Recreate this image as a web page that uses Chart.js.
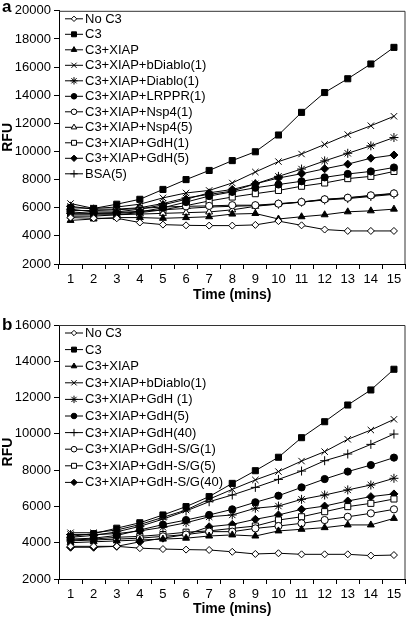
<!DOCTYPE html>
<html>
<head>
<meta charset="utf-8">
<script src="https://cdn.jsdelivr.net/npm/chart.js@4/dist/chart.umd.min.js"></script>
<style>
  body { margin: 0; background: #fff; width: 411px; height: 619px; overflow: hidden; position: relative; }
  canvas { position: absolute; left: 0; }
  #chartA { top: 0; }
  #chartB { top: 310px; }
  .tag { position: absolute; left: 2px; font: bold 17px "Liberation Sans", Arial, sans-serif; color: #000; }
</style>
</head>
<body>
<canvas id="chartA" width="411" height="310"></canvas>
<canvas id="chartB" width="411" height="309"></canvas>
<div class="tag" style="top:-3px">a</div>
<div class="tag" style="top:315px">b</div>
<script>
const mins = ["1", "2", "3", "4", "5", "6", "7", "8", "9", "10", "11", "12", "13", "14", "15"];

// panel a
const aNames = [
  "No C3", "C3", "C3+XIAP", "C3+XIAP+bDiablo(1)", "C3+XIAP+Diablo(1)",
  "C3+XIAP+LRPPR(1)", "C3+XIAP+Nsp4(1)", "C3+XIAP+Nsp4(5)", "C3+XIAP+GdH(1)",
  "C3+XIAP+GdH(5)", "BSA(5)"
];
const aNoC3 = [5300, 5250, 5250, 4950, 4800, 4750, 4730, 4730, 4780, 5050, 4750, 4450, 4350, 4350, 4350];
const aC3 = [6000, 5950, 6250, 6600, 7300, 8000, 8650, 9350, 9980, 11170, 12780, 14190, 15170, 16220, 17400];
const aXiap = [5100, 5200, 5300, 5300, 5250, 5300, 5360, 5550, 5590, 5200, 5360, 5500, 5710, 5780, 5900];
const aBDiablo = [6300, 5950, 6050, 6250, 6700, 7050, 7230, 7760, 8540, 9280, 9820, 10500, 11200, 11830, 12500];
const aDiablo = [6100, 5900, 5900, 6000, 6300, 6700, 6950, 7180, 7700, 8230, 8750, 9330, 9870, 10400, 10990];
const aLrppr = [5700, 5600, 5600, 5700, 6000, 6400, 6830, 7130, 7420, 7650, 7880, 8160, 8400, 8580, 8860];
const aNsp4_1 = [5800, 5800, 5850, 5950, 6050, 6100, 6130, 6180, 6180, 6290, 6410, 6600, 6710, 6880, 7020];
const aNsp4_5 = [5400, 5400, 5500, 5550, 5600, 5650, 5700, 5850, 6100, 6270, 6400, 6580, 6700, 6850, 7000];
const aGdh1 = [5500, 5500, 5500, 5650, 5850, 6150, 6480, 6760, 7000, 7230, 7530, 7760, 8070, 8230, 8580];
const aGdh5 = [5900, 5700, 5700, 5900, 6200, 6600, 7060, 7300, 7700, 8110, 8420, 8770, 9100, 9520, 9750];
const aBsa = [5600, 5600, 5650, 5750, 5850, 5950, 6050, 6100, 6150, 6250, 6400, 6550, 6650, 6800, 6950];
const aTicks = [2000, 4000, 6000, 8000, 10000, 12000, 14000, 16000, 18000, 20000];

// panel b
const bNames = [
  "No C3", "C3", "C3+XIAP", "C3+XIAP+bDiablo(1)", "C3+XIAP+GdH (1)",
  "C3+XIAP+GdH(5)", "C3+XIAP+GdH(40)", "C3+XIAP+GdH-S/G(1)", "C3+XIAP+GdH-S/G(5)",
  "C3+XIAP+GdH-S/G(40)"
];
const bNoC3 = [3800, 3800, 3800, 3700, 3650, 3620, 3600, 3500, 3380, 3420, 3360, 3360, 3360, 3290, 3320];
const bC3 = [4350, 4500, 4800, 5100, 5530, 5990, 6540, 7270, 7970, 8710, 9790, 10670, 11590, 12420, 13560];
const bXiap = [4000, 4050, 4100, 4150, 4200, 4250, 4370, 4430, 4370, 4650, 4740, 4830, 4980, 4980, 5340];
const bBDiablo = [4550, 4550, 4700, 5000, 5400, 5800, 6400, 6940, 7460, 7920, 8500, 9020, 9700, 10210, 10800];
const bGdh1 = [4450, 4450, 4500, 4650, 4850, 5100, 5430, 5530, 5900, 6020, 6390, 6630, 6910, 7180, 7550];
const bGdh5 = [4200, 4250, 4400, 4700, 5000, 5250, 5530, 5840, 6230, 6590, 7050, 7510, 7920, 8280, 8690];
const bGdh40 = [4300, 4400, 4600, 4900, 5300, 5750, 6260, 6630, 7050, 7490, 7950, 8520, 8890, 9420, 9990];
const bSg1 = [4100, 4150, 4200, 4250, 4350, 4450, 4610, 4610, 4790, 4920, 5070, 5250, 5430, 5620, 5840];
const bSg5 = [4150, 4200, 4300, 4350, 4450, 4580, 4650, 4790, 4920, 5250, 5430, 5710, 5990, 6170, 6410];
const bSg40 = [3750, 3750, 3800, 4050, 4250, 4450, 4880, 5010, 5290, 5530, 5840, 6020, 6300, 6540, 6690];
const bTicks = [2000, 4000, 6000, 8000, 10000, 12000, 14000, 16000];

// marker looks: [pointStyle, filled, radius]
const mk = {
  openDiamond: ["rectRot", false, 3.5],
  square: ["rect", true, 4.3],
  triangle: ["triangle", true, 4],
  x: ["crossRot", false, 4.5],
  star: ["star", false, 4.5],
  dot: ["circle", true, 3.6],
  ring: ["circle", false, 3.6],
  openTri: ["triangle", false, 4],
  openSquare: ["rect", false, 4.3],
  diamond: ["rectRot", true, 4],
  plus: ["cross", false, 4.5]
};

const FONT = '"Liberation Sans", Arial, sans-serif';

const insideLegend = {
  id: "insideLegend",
  afterDatasetsDraw(chart, args, opts) {
    const ctx = chart.ctx, area = chart.chartArea;
    ctx.save();
    ctx.font = "13px " + FONT;
    ctx.textBaseline = "middle";
    chart.data.datasets.forEach((ds, i) => {
      const y = area.top + opts.top + i * opts.step;
      const x0 = area.left + 6;
      ctx.strokeStyle = "#000";
      ctx.lineWidth = 1;
      ctx.beginPath();
      ctx.moveTo(x0, y);
      ctx.lineTo(x0 + 18, y);
      ctx.stroke();
      ctx.fillStyle = ds.pointBackgroundColor;
      Chart.helpers.drawPoint(ctx, { pointStyle: ds.pointStyle, radius: ds.pointRadius - 0.8, borderWidth: 1, rotation: 0 }, x0 + 9, y);
      ctx.fillStyle = "#000";
      ctx.fillText(ds.label, x0 + 20, y + 0.5);
    });
    ctx.restore();
  }
};

const frame = {
  id: "frame",
  beforeDatasetsDraw(chart) {
    const ctx = chart.ctx, a = chart.chartArea;
    ctx.save();
    ctx.strokeStyle = "#333";
    ctx.lineWidth = 1;
    ctx.beginPath();
    ctx.moveTo(a.left, a.top + 0.5);
    ctx.lineTo(a.right - 0.5, a.top + 0.5);
    ctx.lineTo(a.right - 0.5, a.bottom);
    ctx.stroke();
    ctx.restore();
  }
};

function series(names, values, looks) {
  return names.map((n, i) => ({
    label: n,
    data: values[i],
    borderColor: "#000",
    borderWidth: 1,
    pointStyle: looks[i][0],
    pointBackgroundColor: looks[i][1] ? "#000" : "#fff",
    pointBorderColor: "#000",
    pointBorderWidth: 1,
    pointRadius: looks[i][2],
    pointHoverRadius: looks[i][2],
    tension: 0
  }));
}

function makeChart(id, datasets, ticks, xHeight, chartTop, legendStep, titlePad) {
  new Chart(document.getElementById(id), {
    type: "line",
    data: { labels: mins, datasets: datasets },
    plugins: [frame, insideLegend],
    options: {
      responsive: false,
      animation: false,
      layout: { padding: { top: chartTop, right: 2, left: 0, bottom: 0 } },
      plugins: {
        legend: { display: false },
        tooltip: { enabled: false },
        insideLegend: { top: 8, step: legendStep }
      },
      scales: {
        x: {
          offset: true,
          grid: { offset: true, drawOnChartArea: false, color: "#000", tickLength: 5 },
          border: { color: "#000", width: 1 },
          ticks: { color: "#000", font: { family: FONT, size: 13 }, padding: 3, maxRotation: 0, autoSkip: false },
          title: { display: true, text: "Time (mins)", color: "#000", font: { family: FONT, size: 14, weight: "bold" }, padding: titlePad },
          afterFit: (s) => { s.height = xHeight; }
        },
        y: {
          min: ticks[0],
          max: ticks[ticks.length - 1],
          afterBuildTicks: (s) => { s.ticks = ticks.map((v) => ({ value: v })); },
          grid: { drawOnChartArea: false, color: "#000", tickLength: 5 },
          border: { color: "#000", width: 1 },
          ticks: { color: "#000", font: { family: FONT, size: 13 }, padding: 3, callback: (v) => String(v) },
          title: { display: true, text: "RFU", color: "#000", font: { family: FONT, size: 14, weight: "bold" }, padding: { top: 0, bottom: 0 } },
          afterFit: (s) => { s.width = 59; }
        }
      }
    }
  });
}

makeChart("chartA",
  series(aNames,
    [aNoC3, aC3, aXiap, aBDiablo, aDiablo, aLrppr, aNsp4_1, aNsp4_5, aGdh1, aGdh5, aBsa],
    [mk.openDiamond, mk.square, mk.triangle, mk.x, mk.star, mk.dot, mk.ring, mk.openTri, mk.openSquare, mk.diamond, mk.plus]),
  aTicks, 46, 7, 15.5, { top: 2, bottom: 6 });

makeChart("chartB",
  series(bNames,
    [bNoC3, bC3, bXiap, bBDiablo, bGdh1, bGdh5, bGdh40, bSg1, bSg5, bSg40],
    [mk.openDiamond, mk.square, mk.triangle, mk.x, mk.star, mk.dot, mk.plus, mk.ring, mk.openSquare, mk.diamond]),
  bTicks, 40, 15, 16.6, { top: 2, bottom: 1 });
</script>
</body>
</html>
